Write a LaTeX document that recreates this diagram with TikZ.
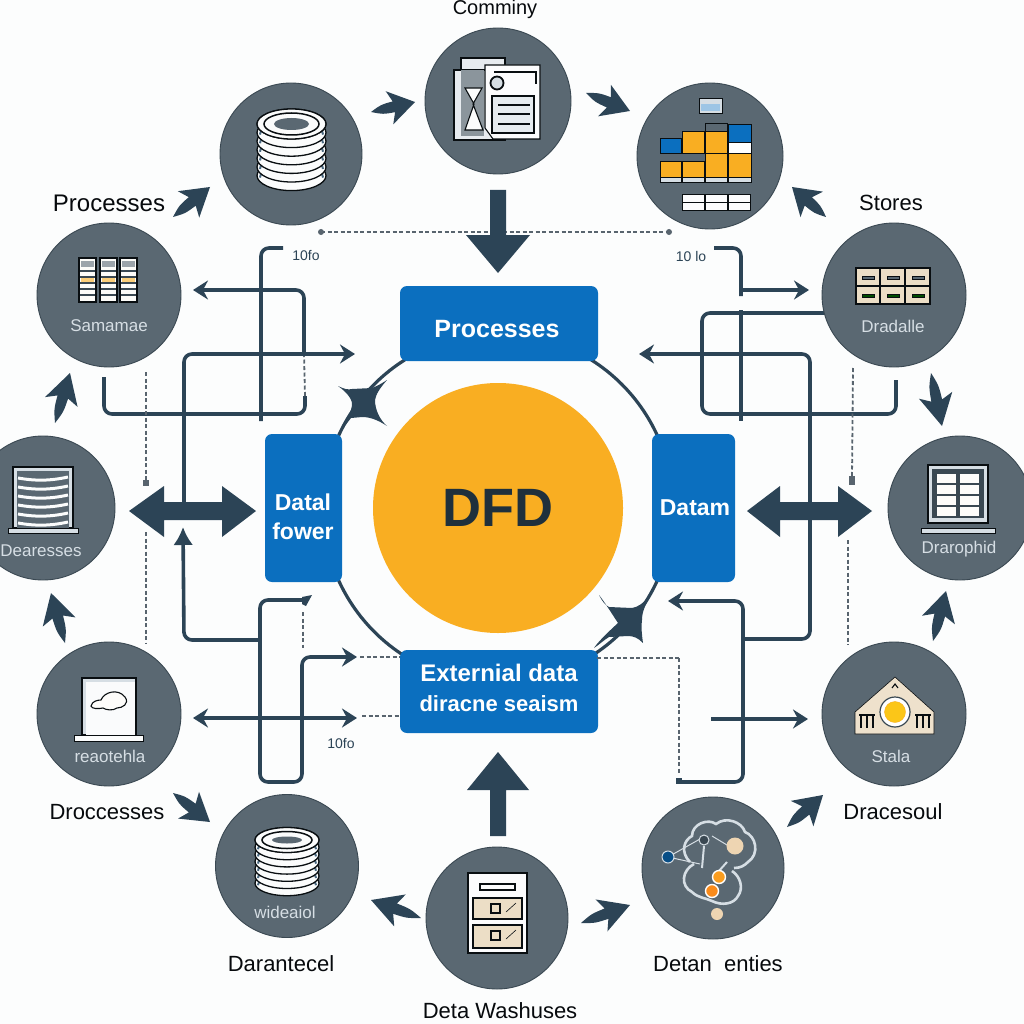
\documentclass[tikz,border=0pt]{standalone}
\usepackage{fontspec}
\setmainfont{Liberation Sans}
\usetikzlibrary{arrows.meta, calc}

\definecolor{pagewhite}{RGB}{252, 253, 253}
\definecolor{ringgrey}{RGB}{90, 104, 114}
\definecolor{rimgrey}{RGB}{58, 72, 82}
\definecolor{inkblue}{RGB}{44, 68, 86}
\definecolor{boxblue}{RGB}{11, 111, 191}
\definecolor{sunorange}{RGB}{249, 174, 34}
\definecolor{paleink}{RGB}{214, 222, 228}
\definecolor{sandbeige}{RGB}{236, 222, 198}
\definecolor{dashgrey}{RGB}{88, 100, 110}

\tikzset{
  hub/.style={circle, draw=rimgrey, line width=0.9pt, fill=ringgrey, minimum size=#1, inner sep=0pt},
  hub/.default=144pt,
  blockbox/.style={draw=none, fill=boxblue, rounded corners=7pt, inner sep=0pt},
  boxtext/.style={inner sep=0pt, align=center, text=white, font=\bfseries\fontsize{#1}{29}\selectfont},
  outlabel/.style={font=\fontsize{22}{24}\selectfont, text=black!85!inkblue, inner sep=0pt},
  inlabel/.style={font=\fontsize{17}{18}\selectfont, text=paleink, inner sep=0pt},
  tinylabel/.style={font=\fontsize{14}{16}\selectfont, text=inkblue, inner sep=0pt},
  flowline/.style={draw=inkblue, line width=3.6pt, rounded corners=8pt},
  flowarrow/.style={flowline, -{Stealth[length=15pt, width=19pt, inset=5pt]}},
  dashline/.style={draw=dashgrey, line width=1.8pt, dash pattern=on 4pt off 2.5pt},
  iconline/.style={draw=black!80!inkblue, line width=1.1pt},
  swoosh/.style={fill=inkblue, to path={
    .. controls ($(\tikztostart)!.25!(\tikztotarget)!5pt!90:(\tikztotarget)$) ..
    ($(\tikztostart)!.52!(\tikztotarget)!5.5pt!90:(\tikztotarget)$) --
    ($(\tikztostart)!.42!(\tikztotarget)!17pt!90:(\tikztotarget)$) -- (\tikztotarget) --
    ($(\tikztostart)!.42!(\tikztotarget)!17pt!-90:(\tikztotarget)$) --
    ($(\tikztostart)!.52!(\tikztotarget)!5.5pt!-90:(\tikztotarget)$)
    .. controls ($(\tikztostart)!.25!(\tikztotarget)!5pt!-90:(\tikztotarget)$) .. (\tikztostart)}},
  bigarrow/.style={draw=none, fill=inkblue}
}

\begin{document}
\begin{tikzpicture}[x=1pt, y=-1pt]
  \useasboundingbox[fill=pagewhite] (0,0) rectangle (1024,1024);

  % Ring and centre
  \node[circle, draw=inkblue, line width=3.2pt, fill=none, minimum size=350pt, inner sep=0pt] (ring) at (498,508) {};
  \node[circle, fill=sunorange, minimum size=250pt, inner sep=0pt, font=\bfseries\fontsize{54}{60}\selectfont, text=inkblue!70!black] (dfd) at (498,508) {DFD};

  % Blue boxes
  \node[blockbox, minimum width=198pt, minimum height=75pt] (procbox) at (499,323.5) {};
  \node[boxtext=25] (proctext) at (497,329) {Processes};
  \node[blockbox, minimum width=77pt, minimum height=148pt] (flowbox) at (303.5,508) {};
  \node[boxtext=23] (flowtext) at (303,517) {Datal\\fower};
  \node[blockbox, minimum width=83pt, minimum height=148pt] (databox) at (693.5,508) {};
  \node[boxtext=23] (datatext) at (695,508) {Datam};
  \node[blockbox, minimum width=198pt, minimum height=83pt] (extbox) at (499,691.5) {};
  \node[boxtext=24] (exttext) at (499,673) {Externial data};
  \node[boxtext=22] (exttextb) at (499,704) {diracne seaism};

  % Stars on the ring
  \fill[inkblue] (338,386) .. controls (344,389) and (348,390) .. (352,389)
    -- (372,388) .. controls (377,386) and (381,384) .. (387,380)
    .. controls (380,388) and (376,394) .. (375,400) .. controls (375,410) and (380,420) .. (387,426)
    .. controls (378,420) and (370,417) .. (362,417) -- (351,418) .. controls (348,422) and (346,424) .. (343,429)
    .. controls (345,420) and (352,412) .. (352,404) .. controls (352,398) and (345,391) .. (338,386) -- cycle;
  \fill[inkblue] (599,595) .. controls (602,601) and (605,605) .. (609,607)
    -- (632,608) .. controls (638,607) and (642,604) .. (650,596)
    .. controls (645,606) and (642,612) .. (642,620) .. controls (641,628) and (642,636) .. (643,643)
    .. controls (638,638) and (634,636) .. (628,636) -- (609,637) .. controls (604,640) and (600,644) .. (594,648)
    .. controls (598,642) and (606,634) .. (618,623) .. controls (612,614) and (606,604) .. (599,595) -- cycle;

  % Connectors, upper left
  \coordinate (la) at (283,248);
  \coordinate (lb) at (261,421);
  \draw[flowline] (la) -- (261,248) -- (lb);
  \coordinate (lc) at (104,377);
  \coordinate (ld) at (305,396);
  \draw[flowline] (lc) -- (104,414) -- (305,414) -- (ld);
  \coordinate (le) at (304,353);
  \coordinate (lf) at (193,290);
  \draw[flowarrow] (le) -- (304,290) -- (lf);
  \draw[dashline] (ld) -- (le);
  \coordinate (lg) at (184,505);
  \coordinate (lh) at (355,354);
  \draw[flowarrow] (lg) -- (184,354) -- (lh);
  \coordinate (li) at (146,372);
  \coordinate (lj) at (146,483);
  \draw[dashline] (li) -- (lj);
  \node[fill=dashgrey, minimum size=6pt, inner sep=0pt] (ljend) at (lj) {};

  % Connectors, lower left
  \coordinate (lk) at (146,532);
  \coordinate (ll) at (146,643);
  \draw[dashline] (lk) -- (ll);
  \coordinate (lm) at (260,640);
  \coordinate (ln) at (183,527);
  \draw[flowline, -{Latex[length=18pt, width=20pt]}] (lm) -- (184,640) -- (ln);
  \coordinate (lo) at (304,600);
  \coordinate (lp) at (357,657);
  \draw[flowarrow] (lo) -- (260,600) -- (260,782) -- (302,782) -- (302,657) -- (lp);
  \fill[inkblue] (302,597) -- (312,595) -- (306,606) -- (302,604) -- cycle;
  \coordinate (lq) at (303,612);
  \coordinate (lr) at (303,648);
  \draw[dashline] (lq) -- (lr);
  \coordinate (ls) at (193,718);
  \coordinate (lt) at (357,718);
  \draw[flowarrow, {Stealth[length=15pt, width=19pt, inset=5pt]}-{Stealth[length=15pt, width=19pt, inset=5pt]}] (ls) -- (lt);
  \coordinate (lu) at (360,657);
  \coordinate (lv) at (400,657);
  \draw[dashline] (lu) -- (lv);
  \coordinate (lw) at (362,716);
  \coordinate (lx) at (400,716);
  \draw[dashline] (lw) -- (lx);

  % Connectors, upper right
  \coordinate (ra) at (714,248);
  \coordinate (rb) at (741,296);
  \draw[flowline] (ra) -- (741,248) -- (rb);
  \coordinate (rc) at (741,290);
  \coordinate (rd) at (809,290);
  \draw[flowarrow] (rc) -- (rd);
  \coordinate (re) at (826,313);
  \coordinate (rf) at (896,380);
  \draw[flowline] (re) -- (702,313) -- (702,414) -- (896,414) -- (rf);
  \coordinate (rg) at (741,310);
  \coordinate (rh) at (741,421);
  \draw[flowline, rounded corners=0pt] (rg) -- (rh);
  \coordinate (ri) at (743,639);
  \coordinate (rj) at (639,354);
  \draw[flowarrow] (ri) -- (810,639) -- (810,354) -- (rj);
  \coordinate (rk) at (853,368);
  \coordinate (rl) at (852,477);
  \draw[dashline] (rk) -- (rl);
  \node[fill=dashgrey, minimum width=6pt, minimum height=9pt, inner sep=0pt] (rlend) at (852,480) {};

  % Connectors, lower right
  \coordinate (rm) at (848,540);
  \coordinate (rn) at (848,645);
  \draw[dashline] (rm) -- (rn);
  \coordinate (ro) at (680,782);
  \coordinate (rp) at (668,601);
  \draw[flowarrow] (ro) -- (743,782) -- (743,601) -- (rp);
  \node[fill=inkblue, minimum size=6pt, inner sep=0pt] (roend) at (679,781) {};
  \coordinate (rq) at (597,658);
  \coordinate (rr) at (679,658);
  \coordinate (rs) at (679,773);
  \draw[dashline] (rq) -- (rr);
  \draw[dashline] (rr) -- (rs);
  \coordinate (rt) at (711,719);
  \coordinate (ru) at (808,719);
  \draw[flowarrow] (rt) -- (ru);

  % Dashed line across the top
  \coordinate (ta) at (321,232);
  \coordinate (tb) at (669,232);
  \draw[dashline] (ta) -- (tb);
  \fill[dashgrey] (ta) circle (3pt) (tb) circle (3pt);

  % Big block arrows
  \fill[bigarrow] (490,190) -- (506,190) -- (506,235) -- (530,235) -- (498,273) -- (466,235) -- (490,235) -- cycle;
  \fill[bigarrow] (490,836) -- (506,836) -- (506,790) -- (529,790) -- (498,752) -- (467,790) -- (490,790) -- cycle;
  \fill[bigarrow] (129,511) -- (164,486) -- (164,502) -- (222,502) -- (222,486) -- (256,511) -- (222,537) -- (222,520) -- (164,520) -- (164,537) -- cycle;
  \fill[bigarrow] (747,511) -- (780,486) -- (780,502) -- (838,502) -- (838,486) -- (872,511) -- (838,537) -- (838,520) -- (780,520) -- (780,537) -- cycle;

  % Small arrows between the circles
  \foreach \n/\ax/\ay/\bx/\by in {1/371/112/415/102, 2/586/93/630/111, 3/173/217/210/187, 4/55/423/70/373,
    5/65/643/51/593, 6/173/793/210/822, 7/421/918/371/900, 8/581/923/630/905,
    9/787/827/823/795, 10/933/641/946/591, 11/931/373/942/426, 12/826/217/792/187}{
    \coordinate (sa\n) at (\ax,\ay);
    \coordinate (sb\n) at (\bx,\by);
    \path[swoosh] (sa\n) to (sb\n);
  }

  % Circles
  \node[hub=146pt] (chart) at (498,101) {};
  \node[hub=142pt] (stackup) at (291,154) {};
  \node[hub=146pt] (gridup) at (710,156) {};
  \node[hub] (samm) at (109,295) {};
  \node[hub] (drawer) at (894,295) {};
  \node[hub] (stripes) at (43,508) {};
  \node[hub] (window) at (960,508) {};
  \node[hub] (cloud) at (109,714) {};
  \node[hub] (house) at (894,714) {};
  \node[hub=143pt] (stackdn) at (287,866) {};
  \node[hub=142pt] (cabinet) at (497,918) {};
  \node[hub=142pt] (network) at (713,868) {};

  % Icon, documents
  \fill[paleink!60!white, iconline] (454,70) rectangle (505,140);
  \fill[paleink!60!white, iconline] (461,58) rectangle (505,70);
  \fill[ringgrey!70!white] (461,70) rectangle (484,136);
  \fill[white!90!paleink, iconline] (465,88) -- (482,88) -- (473,104) -- (483,130) -- (465,130) -- (474,104) -- cycle;
  \fill[white!92!paleink, iconline] (485,65) -- (540,65) -- (540,139) -- (493,139) -- (485,128) -- cycle;
  \draw[iconline] (494,72) -- (536,72) -- (536,84);
  \draw[iconline, line width=1.8pt, fill=paleink] (497,83) circle (6.5pt);
  \draw[iconline, fill=paleink!60!white] (492,96) rectangle (534,133);
  \foreach \y in {105,114,124}{\draw[iconline, line width=1.8pt] (498,\y) -- (530,\y);}

  % Icon, grid
  \fill[paleink, iconline, line width=0.6pt] (699,98) rectangle (722,113);
  \fill[boxblue!40!white] (701,104) rectangle (720,111);
  \begin{scope}[iconline, line width=0.8pt]
    \filldraw[fill=boxblue] (660,138) rectangle (681,153);
    \filldraw[fill=sunorange] (682,131) rectangle (704,153);
    \filldraw[fill=ringgrey] (705,123) rectangle (727,131);
    \filldraw[fill=sunorange] (705,131) rectangle (727,153);
    \filldraw[fill=boxblue] (728,124) rectangle (751,142);
    \filldraw[fill=white] (728,142) rectangle (751,153);
    \filldraw[fill=sunorange] (660,161) rectangle (681,177);
    \filldraw[fill=sunorange] (682,161) rectangle (704,177);
    \filldraw[fill=sunorange] (705,153) rectangle (727,177);
    \filldraw[fill=sunorange] (728,153) rectangle (751,177);
    \filldraw[fill=paleink] (660,177) rectangle (681,182);
    \filldraw[fill=paleink] (682,177) rectangle (704,182);
    \filldraw[fill=paleink] (705,177) rectangle (727,182);
    \filldraw[fill=paleink] (728,177) rectangle (751,182);
    \foreach \x in {682,705,728}{
      \filldraw[fill=white!92!paleink] (\x,194) rectangle ++(22,16);
      \draw[line width=0.5pt] (\x,202) -- ++(22,0);
    }
  \end{scope}

  % Icon, disk stacks
  \foreach \cx/\top/\gap/\rx/\ry in {291.5/124/8.6/34.5/15, 287/840/7.2/32/12.5}{
    \foreach \k in {6,5,...,0}{
      \filldraw[fill=white!90!paleink, iconline, line width=1.3pt] (\cx,{\top+\k*\gap}) ellipse[x radius=\rx, y radius=\ry];
      \draw[ringgrey!80!boxblue, line width=2pt] (\cx-\rx+3,{\top+\k*\gap+2}) arc[start angle=180, end angle=360, x radius=\rx-3, y radius=\ry-2];
    }
    \filldraw[fill=white!90!paleink, iconline, line width=1.3pt] (\cx,\top) ellipse[x radius=\rx, y radius=\ry];
    \draw[iconline, line width=1.5pt] (\cx,\top) ellipse[x radius=\rx-7, y radius=\ry-4];
    \filldraw[fill=ringgrey, draw=none] (\cx,\top) ellipse[x radius=\rx-17, y radius=\ry-9];
  }

  % Icon, three server columns
  \foreach \x in {79,100,120}{
    \fill[white!90!sandbeige, iconline] (\x,258) rectangle ++(17,44);
    \fill[ringgrey!60!white] (\x+2,261) rectangle ++(13,6);
    \foreach \y in {271,277,283,289,295}{\draw[rimgrey, line width=1.2pt] (\x+1,\y) -- ++(15,0);}
    \fill[sunorange!60!white] (\x+2,278) rectangle ++(13,4);
  }

  % Icon, drawers
  \fill[sandbeige, iconline] (856,268) rectangle (930,304);
  \draw[iconline] (880,268) -- (880,304) (905,268) -- (905,304) (856,286) -- (930,286);
  \foreach \x in {868,893,918}{
    \fill[ringgrey, iconline, line width=0.6pt] (\x-6,276) rectangle ++(12,3);
    \fill[black!70!green, iconline, line width=0.6pt] (\x-6,294) rectangle ++(12,3);
  }

  % Icon, striped window
  \fill[paleink, iconline] (13,467) rectangle (73,528);
  \fill[ringgrey] (17,471) rectangle (69,528);
  \foreach \y in {478,487,...,523}{\draw[white!90!paleink, line width=3pt] (18,\y) .. controls (35,\y+3) and (50,\y+3) .. (68,\y-1);}
  \fill[paleink, iconline, line width=0.6pt] (8,528) rectangle (78,533);

  % Icon, framed window
  \fill[paleink, iconline] (928,465) rectangle (988,523);
  \fill[rimgrey] (932,469) rectangle (984,518);
  \foreach \x/\w in {937/19,960/19}{
    \foreach \y in {474,485,496,507}{\fill[white!92!sandbeige] (\x,\y) rectangle ++(\w,9);}
  }
  \fill[paleink, iconline, line width=0.6pt] (921,528) rectangle (995,533);

  % Icon, cloud window
  \fill[paleink, iconline] (82,678) rectangle (136,735);
  \fill[white!88!paleink] (86,682) rectangle (135,735);
  \draw[iconline, fill=white!92!sandbeige] (91,706) .. controls (92,701) and (98,700) .. (101,700)
    .. controls (104,692) and (118,688) .. (125,697) .. controls (130,704) and (122,708) .. (117,708)
    .. controls (113,711) and (106,710) .. (103,708) .. controls (98,709) and (92,709) .. (91,706) -- cycle;
  \fill[white!90!paleink, iconline, line width=0.6pt] (74,735) rectangle (143,741);

  % Icon, house
  \fill[sandbeige!90!white, iconline, line width=0.6pt] (895,677) -- (934,712) -- (934,734) -- (855,734) -- (855,712) -- cycle;
  \draw[iconline] (892,688) -- (895,684) -- (898,688);
  \foreach \x in {861,867,873,917,923,929}{\draw[iconline] (\x,715) -- (\x,728);}
  \draw[iconline] (859,715) -- (875,715) (915,715) -- (931,715);
  \draw[rimgrey, line width=1.2pt, fill=white] (895,712) circle (15pt);
  \fill[sunorange!70!yellow, draw=sunorange] (895,712) circle (10.5pt);

  % Icon, cabinet
  \fill[white!92!paleink, iconline, line width=1.4pt] (468,873) rectangle (527,953);
  \draw[iconline, line width=1.3pt] (480,884) rectangle (515,890);
  \fill[sandbeige, iconline] (473,898) rectangle (522,919);
  \fill[sandbeige, iconline] (473,925) rectangle (522,948);
  \foreach \y in {908,935}{
    \draw[iconline, line width=1.3pt] (491,\y-4) rectangle ++(9,9);
    \draw[iconline, line width=0.6pt] (506,\y+4) -- (516,\y-5);
  }

  % Icon, network cloud
  \draw[paleink, line width=2.6pt] (690,862) .. controls (680,852) and (684,840) .. (692,836)
    .. controls (692,824) and (708,818) .. (716,824) .. controls (726,816) and (742,822) .. (745,832)
    .. controls (756,836) and (760,854) .. (748,862) .. controls (744,866) and (740,868) .. (734,868);
  \draw[paleink, line width=2.6pt] (694,864) .. controls (682,870) and (680,886) .. (692,892)
    .. controls (698,898) and (706,898) .. (712,901) .. controls (722,906) and (734,904) .. (738,896)
    .. controls (744,888) and (740,876) .. (732,871);
  \draw[paleink, line width=1pt] (668,857) -- (700,839) (668,857) -- (700,864) (712,836) -- (732,848);
  \draw[paleink, line width=2pt] (704,846) -- (702,868);
  \draw[paleink, line width=2pt] (727,862) -- (718,872);
  \fill[boxblue!70!black, draw=paleink, line width=1pt] (668,857) circle (6pt);
  \fill[sandbeige!90!orange] (735,846) circle (8.5pt);
  \fill[sunorange!90!red, draw=white, line width=1.4pt] (719,877) circle (6.5pt);
  \fill[sunorange!80!red, draw=white, line width=1.4pt] (712,891) circle (6.5pt);
  \fill[sandbeige!90!orange] (717,914) circle (6pt);
  \fill[rimgrey, draw=paleink, line width=1pt] (704,840) circle (5pt);

  % Labels in the circles
  \node[inlabel] (samtext) at (109,326) {Samamae};
  \node[inlabel] (drawtext) at (893,326) {Dradalle};
  \node[inlabel] (striptext) at (41,551) {Dearesses};
  \node[inlabel] (windtext) at (959,549) {Drarophid};
  \node[inlabel] (cloudtext) at (110,756) {reaotehla};
  \node[inlabel] (housetext) at (891,756) {Stala};
  \node[inlabel] (stacktext) at (285,912) {wideaiol};

  % Labels round the outside
  \node[outlabel, font=\fontsize{20}{22}\selectfont] (topname) at (495,9.5) {Comminy};
  \node[outlabel, font=\fontsize{24}{26}\selectfont] (procname) at (109,203) {Processes};
  \node[outlabel] (storename) at (891,203) {Stores};
  \node[outlabel] (drocname) at (107,812) {Droccesses};
  \node[outlabel] (dracname) at (893,812) {Dracesoul};
  \node[outlabel] (darname) at (281,964) {Darantecel};
  \node[outlabel] (detname) at (718,964) {Detan\hspace{6pt} enties};
  \node[outlabel] (washname) at (500,1011) {Deta Washuses};

  % Small figures
  \node[tinylabel] (numa) at (306,256) {10fo};
  \node[tinylabel] (numb) at (691,256) {10 lo};
  \node[tinylabel] (numc) at (341,743) {10fo};
\end{tikzpicture}
\end{document}
